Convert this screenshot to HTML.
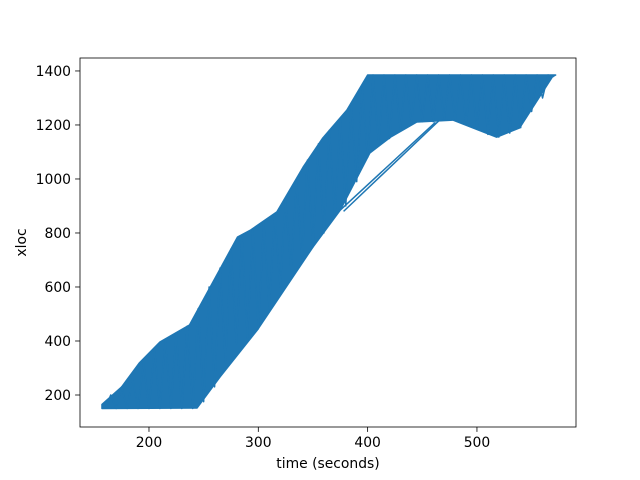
<!DOCTYPE html>
<html><head><meta charset="utf-8">
<style>
html,body{margin:0;padding:0;background:#fff;}
svg{display:block;font-family:"DejaVu Sans","Liberation Sans",sans-serif;}
</style></head>
<body>
<svg id="chart" width="640" height="480" xmlns="http://www.w3.org/2000/svg">
<rect x="0" y="0" width="640" height="480" fill="#fff"/>
<g id="marks"></g>
<g id="axes"></g>
</svg>
<script>
const times = [160,165,170,175,180,185,190,195,200,205,210,215,220,225,230,235,240,245,250,255,260,265,270,275,280,285,290,295,300,305,310,315,320,325,330,335,340,345,350,355,360,365,370,375,380,385,390,395,400,405,410,415,420,425,430,435,440,445,450,455,460,465,470,475,480,485,490,495,500,505,510,515,520,525,530,535,540,545,550,555,560,565,570];
const xloc = [150,200,150,230,150,260,150,320,150,370,150,405,150,430,150,455,150,520,175,600,230,670,320,740,390,790,410,815,445,840,520,870,600,920,660,990,700,1070,748,1130,800,1180,860,1220,900,1280,990,1340,1080,1385,1130,1385,1150,1385,1180,1385,1205,1385,1212,1385,1212,1385,1220,1385,1218,1385,1205,1385,1185,1385,1165,1385,1155,1385,1170,1385,1190,1385,1250,1385,1300,1385,1378];
const upperTimes = [157,175,191,210,237,281,293,317,341,359,381,400,572];
const upperXloc = [165,230,318,396,459,785,811,878,1044,1152,1255,1385,1385];
const lowerTimes = [157,244,265,299,350,375,402,421,445,478,518,539,569,572];
const lowerXloc = [150,152,267,440,748,885,1096,1155,1211,1218,1155,1189,1378,1385];
const strayTimes = [375,462,378,465];
const strayXloc = [885,1210,880,1215];
const xTicks = [200,300,400,500];
const yTicks = [200,400,600,800,1000,1200,1400];

const L=80,R=576,T=58,B=427;
const xMin=136.9,xMax=590.6,yMin=81.5,yMax=1448;
const sx=v=>L+(v-xMin)/(xMax-xMin)*(R-L);
const sy=v=>B-(v-yMin)/(yMax-yMin)*(B-T);
const NS="http://www.w3.org/2000/svg";
const marks=document.getElementById('marks');
const axes=document.getElementById('axes');
function mk(tag,attrs,parent){const e=document.createElementNS(NS,tag);for(const k in attrs)e.setAttribute(k,attrs[k]);parent.appendChild(e);return e;}

const pts=[];
upperTimes.forEach((t,i)=>pts.push(sx(t).toFixed(2)+','+sy(upperXloc[i]).toFixed(2)));
for(let i=lowerTimes.length-1;i>=0;i--)pts.push(sx(lowerTimes[i]).toFixed(2)+','+sy(lowerXloc[i]).toFixed(2));
const band=mk('polygon',{points:pts.join(' '),fill:'#1f77b4',stroke:'#1f77b4','stroke-width':1.5,'stroke-linejoin':'round'},marks);



let d=times.map((t,i)=>(i?'L':'M')+sx(t).toFixed(2)+','+sy(xloc[i]).toFixed(2)).join('');
const line=mk('path',{d:d,fill:'none',stroke:'#1f77b4','stroke-width':1.5,'stroke-linejoin':'round'},marks);


for(let i=0;i<strayTimes.length;i+=2){
  const s=mk('line',{x1:sx(strayTimes[i]),y1:sy(strayXloc[i]),x2:sx(strayTimes[i+1]),y2:sy(strayXloc[i+1]),stroke:'#1f77b4','stroke-width':1.5},marks);
  
  
}

const frame=mk('rect',{x:L,y:T,width:R-L,height:B-T,fill:'none',stroke:'#000','stroke-width':0.8},axes);


xTicks.forEach(v=>{
  const x=sx(v);
  const tk=mk('line',{x1:x,y1:B,x2:x,y2:B+4.9,stroke:'#000','stroke-width':0.8},axes);
  
  
  const tx=mk('text',{x:x,y:B+20,'text-anchor':'middle','font-size':13.9,fill:'#000'},axes);
  tx.textContent=v;
  
  
});
yTicks.forEach(v=>{
  const y=sy(v);
  const tk=mk('line',{x1:L-4.9,y1:y,x2:L,y2:y,stroke:'#000','stroke-width':0.8},axes);
  
  
  const tx=mk('text',{x:L-9,y:y+5,'text-anchor':'end','font-size':13.9,fill:'#000'},axes);
  tx.textContent=v;
  
  
});
const xl=mk('text',{x:(L+R)/2,y:468,'text-anchor':'middle','font-size':13.9,fill:'#000'},axes);
xl.textContent='time (seconds)';


const yl=mk('text',{x:26,y:(T+B)/2,'text-anchor':'middle','font-size':13.9,fill:'#000',transform:'rotate(-90 26 '+((T+B)/2)+')'},axes);
yl.textContent='xloc';


</script>
</body></html>
